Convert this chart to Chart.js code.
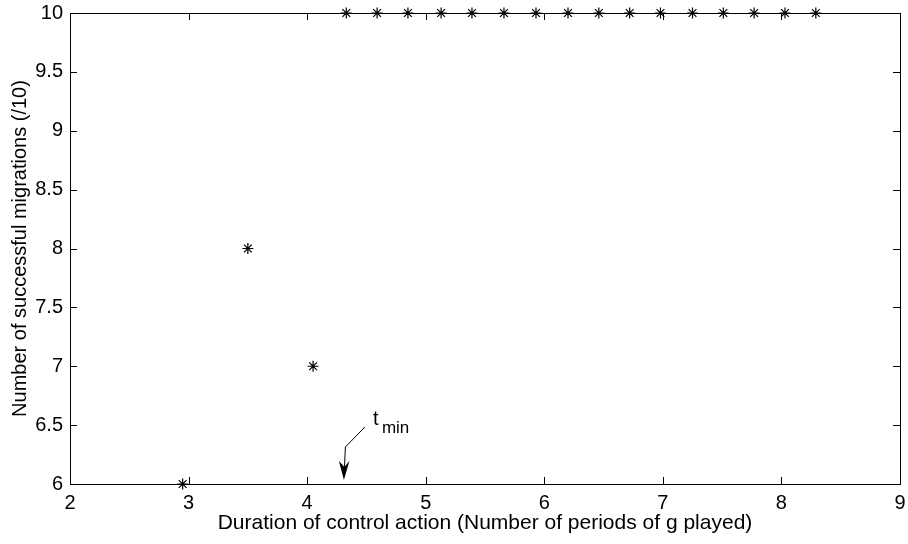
<!DOCTYPE html>
<html>
<head>
<meta charset="utf-8">
<script src="https://cdn.jsdelivr.net/npm/chart.js@4/dist/chart.umd.min.js"></script>
<style>
  body { margin: 0; background: #fff; }
  canvas { display: block; }
</style>
</head>
<body>
<canvas id="grafico" width="908" height="544"></canvas>
<script>
const durations = [2.95, 3.50, 4.05, 4.33, 4.59, 4.85, 5.13, 5.39, 5.66, 5.93, 6.20, 6.46, 6.72, 6.98, 7.25, 7.51, 7.77, 8.03, 8.29];
const migrations = [6, 8, 7, 10, 10, 10, 10, 10, 10, 10, 10, 10, 10, 10, 10, 10, 10, 10, 10];
const xRange = [2, 9];
const yRange = [6, 10];
const tMin = 4.31;
const xTitle = "Duration of control action (Number of periods of g played)";
const yTitle = "Number of successful migrations (/10)";

const fontFamily = "'Liberation Sans', Arial, Helvetica, sans-serif";

// frame, inward ticks on all four sides, and the t_min arrow
const framePlugin = {
    id: "frame",
    afterDraw(chart) {
        const { ctx, chartArea: a, scales: { x, y } } = chart;
        const len = 7;
        ctx.save();
        ctx.strokeStyle = "#000";
        ctx.lineWidth = 1;
        ctx.beginPath();
        x.ticks.forEach((t) => {
            const px = Math.round(x.getPixelForValue(t.value)) + 0.5;
            if (t.value === xRange[0] || t.value === xRange[1]) return;
            ctx.moveTo(px, a.bottom); ctx.lineTo(px, a.bottom - len);
            ctx.moveTo(px, a.top); ctx.lineTo(px, a.top + len);
        });
        y.ticks.forEach((t) => {
            const py = Math.round(y.getPixelForValue(t.value)) + 0.5;
            if (t.value === yRange[0] || t.value === yRange[1]) return;
            ctx.moveTo(a.left, py); ctx.lineTo(a.left + len, py);
            ctx.moveTo(a.right, py); ctx.lineTo(a.right - len, py);
        });
        ctx.stroke();
        ctx.strokeRect(Math.round(a.left) + 0.5, Math.round(a.top) + 0.5,
            Math.round(a.right - a.left), Math.round(a.bottom - a.top));

        // t_min arrow
        const tx = x.getPixelForValue(tMin);
        const ty = y.getPixelForValue(yRange[0]) - 4;
        ctx.beginPath();
        ctx.moveTo(tx + 21, ty - 53);
        ctx.lineTo(tx + 1.5, ty - 33);
        ctx.lineTo(tx + 0.5, ty - 12);
        ctx.stroke();
        ctx.fillStyle = "#000";
        ctx.beginPath();
        ctx.moveTo(tx, ty);
        ctx.lineTo(tx - 5, ty - 19);
        ctx.lineTo(tx + 0.5, ty - 13);
        ctx.lineTo(tx + 5.5, ty - 19);
        ctx.closePath();
        ctx.fill();

        ctx.textBaseline = "alphabetic";
        ctx.textAlign = "left";
        ctx.font = "20px " + fontFamily;
        ctx.fillText("t", tx + 29, ty - 55);
        ctx.font = "17px " + fontFamily;
        ctx.fillText("min", tx + 38, ty - 47);
        ctx.restore();
    }
};

new Chart(document.getElementById("grafico"), {
    type: "scatter",
    data: {
        datasets: [{
            data: durations.map((d, i) => ({ x: d, y: migrations[i] })),
            pointStyle: "star",
            pointRadius: 5.5,
            pointBorderWidth: 1.2,
            borderColor: "#000",
            backgroundColor: "#000",
            clip: false
        }]
    },
    options: {
        responsive: false,
        animation: false,
        layout: { padding: { left: 0, right: 8, top: 13, bottom: 0 } },
        plugins: { legend: { display: false }, tooltip: { enabled: false } },
        scales: {
            x: {
                type: "linear",
                min: xRange[0],
                max: xRange[1],
                afterFit: (s) => { s.height = 60; s.paddingLeft = 0; s.paddingRight = 0; },
                grid: { display: false, drawTicks: false },
                border: { display: false },
                ticks: { stepSize: 1, padding: 7, color: "#000", font: { family: fontFamily, size: 20 } },
                title: { display: true, text: xTitle, color: "#000", padding: { top: 0, bottom: 8 }, font: { family: fontFamily, size: 21 } }
            },
            y: {
                type: "linear",
                min: yRange[0],
                max: yRange[1],
                afterFit: (s) => { s.width = 70; s.paddingTop = 0; s.paddingBottom = 0; },
                grid: { display: false, drawTicks: false },
                border: { display: false },
                ticks: { stepSize: 0.5, padding: 7, color: "#000", font: { family: fontFamily, size: 20 },
                    callback: (v) => String(v) },
                title: { display: true, text: yTitle, color: "#000", padding: { top: 8, bottom: 0 }, font: { family: fontFamily, size: 20 } }
            }
        }
    },
    plugins: [framePlugin]
});
</script>
</body>
</html>
